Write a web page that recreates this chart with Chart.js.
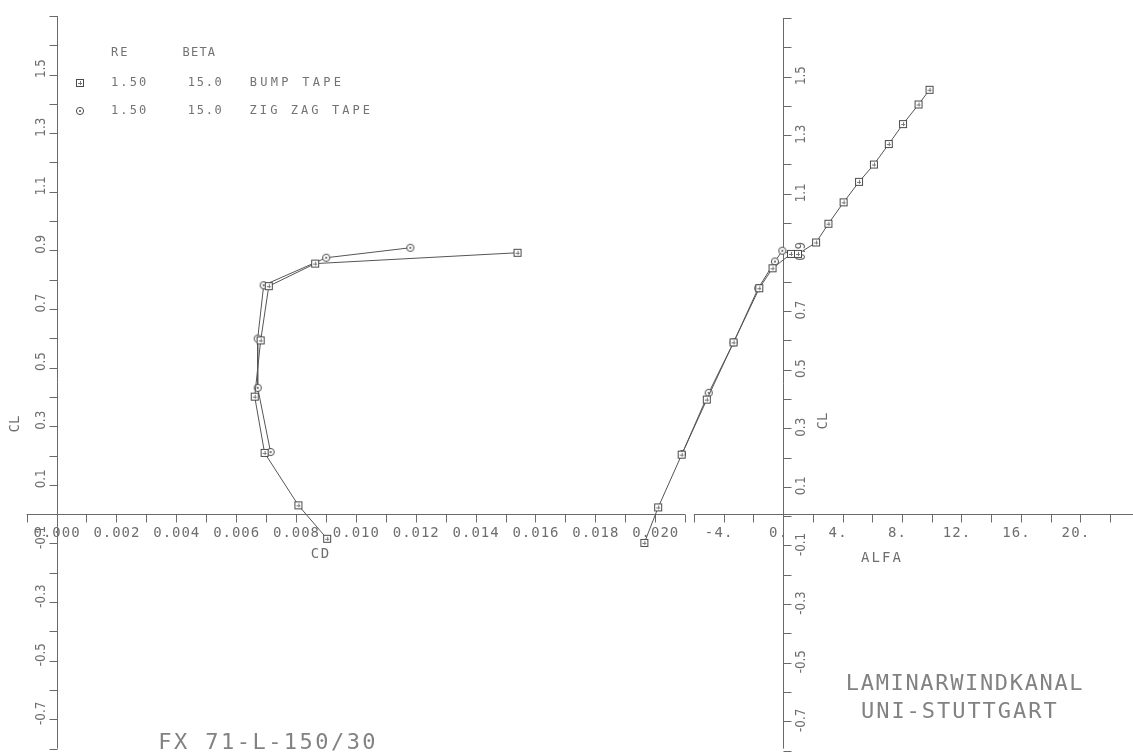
<!DOCTYPE html>
<html><head><meta charset="utf-8">
<script src="https://cdn.jsdelivr.net/npm/chart.js@4.4.1/dist/chart.umd.min.js"></script>
<style>html,body{margin:0;padding:0;background:#fff;overflow:hidden}canvas{display:block}</style>
</head><body>
<canvas id="c" width="1133" height="755"></canvas>
<script>
// ---- Data (FX 71-L-150/30, Re 1.5e6, beta 15) ----
// Polar: CL vs CD
const cdBump      = [0.01540, 0.00864, 0.00709, 0.00682, 0.00662, 0.00695, 0.00808, 0.00904];
const clBumpPolar = [0.892, 0.855, 0.778, 0.593, 0.401, 0.209, 0.030, -0.084];
const cdZig       = [0.01182, 0.00901, 0.00692, 0.00672, 0.00672, 0.00715];
const clZigPolar  = [0.909, 0.875, 0.781, 0.599, 0.431, 0.212];
// Lift curve: CL vs ALFA
const alfaBump    = [-9.33, -8.40, -6.82, -5.13, -3.33, -1.60, -0.71, 0.53, 1.00, 2.22, 3.05, 4.07, 5.11, 6.11, 7.11, 8.07, 9.11, 9.85];
const clBumpLift  = [-0.098, 0.023, 0.203, 0.391, 0.586, 0.771, 0.839, 0.888, 0.888, 0.927, 0.991, 1.064, 1.134, 1.193, 1.263, 1.331, 1.398, 1.448];
const alfaZig     = [-0.05, -0.55, -1.67, -3.33, -5.00, -6.80];
const clZigLift   = [0.899, 0.862, 0.771, 0.586, 0.414, 0.205];
// Tick labels
const cdTickLabels   = ['0.000','0.002','0.004','0.006','0.008','0.010','0.012','0.014','0.016','0.018','0.020'];
const alfaTickLabels = ['-4.','0.','4.','8.','12.','16.','20.'];
const clTickLabels   = ['1.5','1.3','1.1','0.9','0.7','0.5','0.3','0.1','-0.1','-0.3','-0.5','-0.7'];
// Legend
const legendHead  = ['RE', 'BETA'];
const legendRe    = ['1.50', '1.50'];
const legendBeta  = ['15.0', '15.0'];
const legendNames = ['BUMP TAPE', 'ZIG ZAG TAPE'];

const INK = '#4a4a4a';
function makeSym(kind){
  const c = document.createElement('canvas'); c.width = 10; c.height = 10;
  const g = c.getContext('2d');
  g.strokeStyle = INK; g.lineWidth = 1; g.fillStyle = '#fff';
  if (kind === 'sq') {
    g.fillRect(1,1,8,8); g.strokeRect(1.5,1.5,7,7);
    g.fillStyle = '#777'; g.fillRect(3,5,4,1); g.fillRect(5,3,1,4);
  } else {
    g.beginPath(); g.arc(5,5,3.6,0,Math.PI*2); g.fill(); g.stroke();
    g.fillStyle = '#777'; g.fillRect(4,4,2,2);
  }
  return c;
}
const symSq = makeSym('sq'), symCi = makeSym('ci');

function pts(xs, ys){ return xs.map((v,i)=>({x:v, y:ys[i]})); }
function ds(label, data, xAxis, sym){
  return {label, data, xAxisID:xAxis, yAxisID:'y', showLine:true, borderColor:'#555', borderWidth:1,
          tension:0, pointStyle:sym, pointRadius:4, pointHoverRadius:4, backgroundColor:'#fff'};
}

function spaced(g, text, x, y, adv, align){
  const n = text.length;
  const start = align === 'center' ? x - adv*n/2 : x;
  g.textAlign = 'center';
  for (let i=0;i<n;i++) g.fillText(text[i], start + adv*(i+0.5), y);
}

const MONO = '"DejaVu Sans Mono"';
const axesPlugin = {
  id:'plotterAxes',
  beforeDatasetsDraw(chart){
    const g = chart.ctx, sx = chart.scales.x, sa = chart.scales.x2, sy = chart.scales.y;
    const y0 = Math.round(sy.getPixelForValue(0)) + 0.5;
    const xCD0 = Math.round(sx.getPixelForValue(0)) + 0.5;
    const xA0 = Math.round(sa.getPixelForValue(0)) + 0.5;
    const yTop = sy.getPixelForValue(1.7), yBot = sy.getPixelForValue(-0.8);
    g.save();
    g.strokeStyle = '#6a6a6a'; g.lineWidth = 1;
    g.beginPath();
    // left x axis (CD)
    g.moveTo(sx.getPixelForValue(-0.001), y0); g.lineTo(sx.getPixelForValue(0.021), y0);
    for (let k=-1;k<=21;k++){ const px = Math.round(sx.getPixelForValue(k/1000))+0.5; g.moveTo(px,y0); g.lineTo(px,y0+8); }
    // left y axis
    g.moveTo(xCD0, yTop); g.lineTo(xCD0, yBot);
    for (let k=-8;k<=17;k++){ const py = Math.round(sy.getPixelForValue(k/10))+0.5; g.moveTo(xCD0,py); g.lineTo(xCD0-8,py); }
    // right x axis (ALFA)
    g.moveTo(sa.getPixelForValue(-6), y0); g.lineTo(1133, y0);
    for (let k=-6;k<=22;k+=2){ const px = Math.round(sa.getPixelForValue(k))+0.5; g.moveTo(px,y0); g.lineTo(px,y0+8); }
    // right y axis
    g.moveTo(xA0, yTop+2); g.lineTo(xA0, yBot);
    for (let k=-8;k<=17;k++){ const py = Math.round(sy.getPixelForValue(k/10))+2.5; g.moveTo(xA0,py); g.lineTo(xA0+8,py); }
    g.stroke();

    g.fillStyle = '#6e6e6e'; g.textBaseline = 'middle';
    // x tick labels
    g.font = '14px ' + MONO;
    cdTickLabels.forEach(t => spaced(g, t, sx.getPixelForValue(parseFloat(t)), 533, 9.4, 'center'));
    alfaTickLabels.forEach(t => spaced(g, t, sa.getPixelForValue(parseFloat(t)) - 5, 533, 9.6, 'center'));
    // y tick labels (rotated)
    function rot(t, x, y, sc){
      g.save(); g.translate(x, y); g.rotate(-Math.PI/2); g.scale(sc,1);
      g.textAlign = 'center'; g.fillText(t, 0, 0); g.restore();
    }
    g.font = '14px "DejaVu Sans"';
    clTickLabels.forEach(t => {
      const v = parseFloat(t), py = sy.getPixelForValue(v);
      rot(t, xCD0 - 16, py - 6, 0.85);
      rot(t, xA0 + 18, py + 1, 0.85);
    });
    // axis titles
    g.font = '14px ' + MONO;
    rot('CL', 15, 424, 1);
    rot('CL', 823, 421, 1);
    spaced(g, 'CD', 320, 554, 10, 'center');
    spaced(g, 'ALFA', 881, 558, 10.5, 'center');

    // legend
    g.font = '12px ' + MONO; g.fillStyle = '#737373';
    spaced(g, legendHead[0], 110, 53, 9.2, 'left');
    spaced(g, legendHead[1], 182, 53, 8.4, 'left');
    const syms = [symSq, symCi];
    [83, 111].forEach((ly, i) => {
      g.drawImage(syms[i], 75, ly - 5);
      spaced(g, legendRe[i], 110, ly, 9.3, 'left');
      spaced(g, legendBeta[i], 187, ly, 8.9, 'left');
      spaced(g, legendNames[i], 248, ly, i === 0 ? 10.5 : 10.3, 'left');
    });

    // big captions
    g.fillStyle = '#828282'; g.font = '22px ' + MONO;
    spaced(g, 'FX 71-L-150/30', 157, 743, 15.7, 'left');
    spaced(g, 'LAMINARWINDKANAL', 845, 684, 14.9, 'left');
    spaced(g, 'UNI-STUTTGART', 860, 712, 15.2, 'left');
    g.restore();
  }
};

new Chart(document.getElementById('c'), {
  type:'scatter',
  data:{ datasets:[
    ds('BUMP TAPE', pts(cdBump, clBumpPolar), 'x', symSq),
    ds('ZIG ZAG TAPE', pts(cdZig, clZigPolar), 'x', symCi),
    ds('BUMP TAPE', pts(alfaBump, clBumpLift), 'x2', symSq),
    ds('ZIG ZAG TAPE', pts(alfaZig, clZigLift), 'x2', symCi)
  ]},
  options:{
    responsive:false, animation:false, devicePixelRatio:1,
    layout:{padding:0},
    events:[],
    plugins:{legend:{display:false}, tooltip:{enabled:false}},
    scales:{
      x:{type:'linear', display:false, bounds:'data', min:-52/30200, max:(1133-52)/30200},
      x2:{type:'linear', display:false, bounds:'data', min:-785/15, max:(1133-785)/15},
      y:{type:'linear', display:false, bounds:'data', min:(516-755)/297, max:516/297}
    }
  },
  plugins:[axesPlugin]
});
</script>
</body></html>
